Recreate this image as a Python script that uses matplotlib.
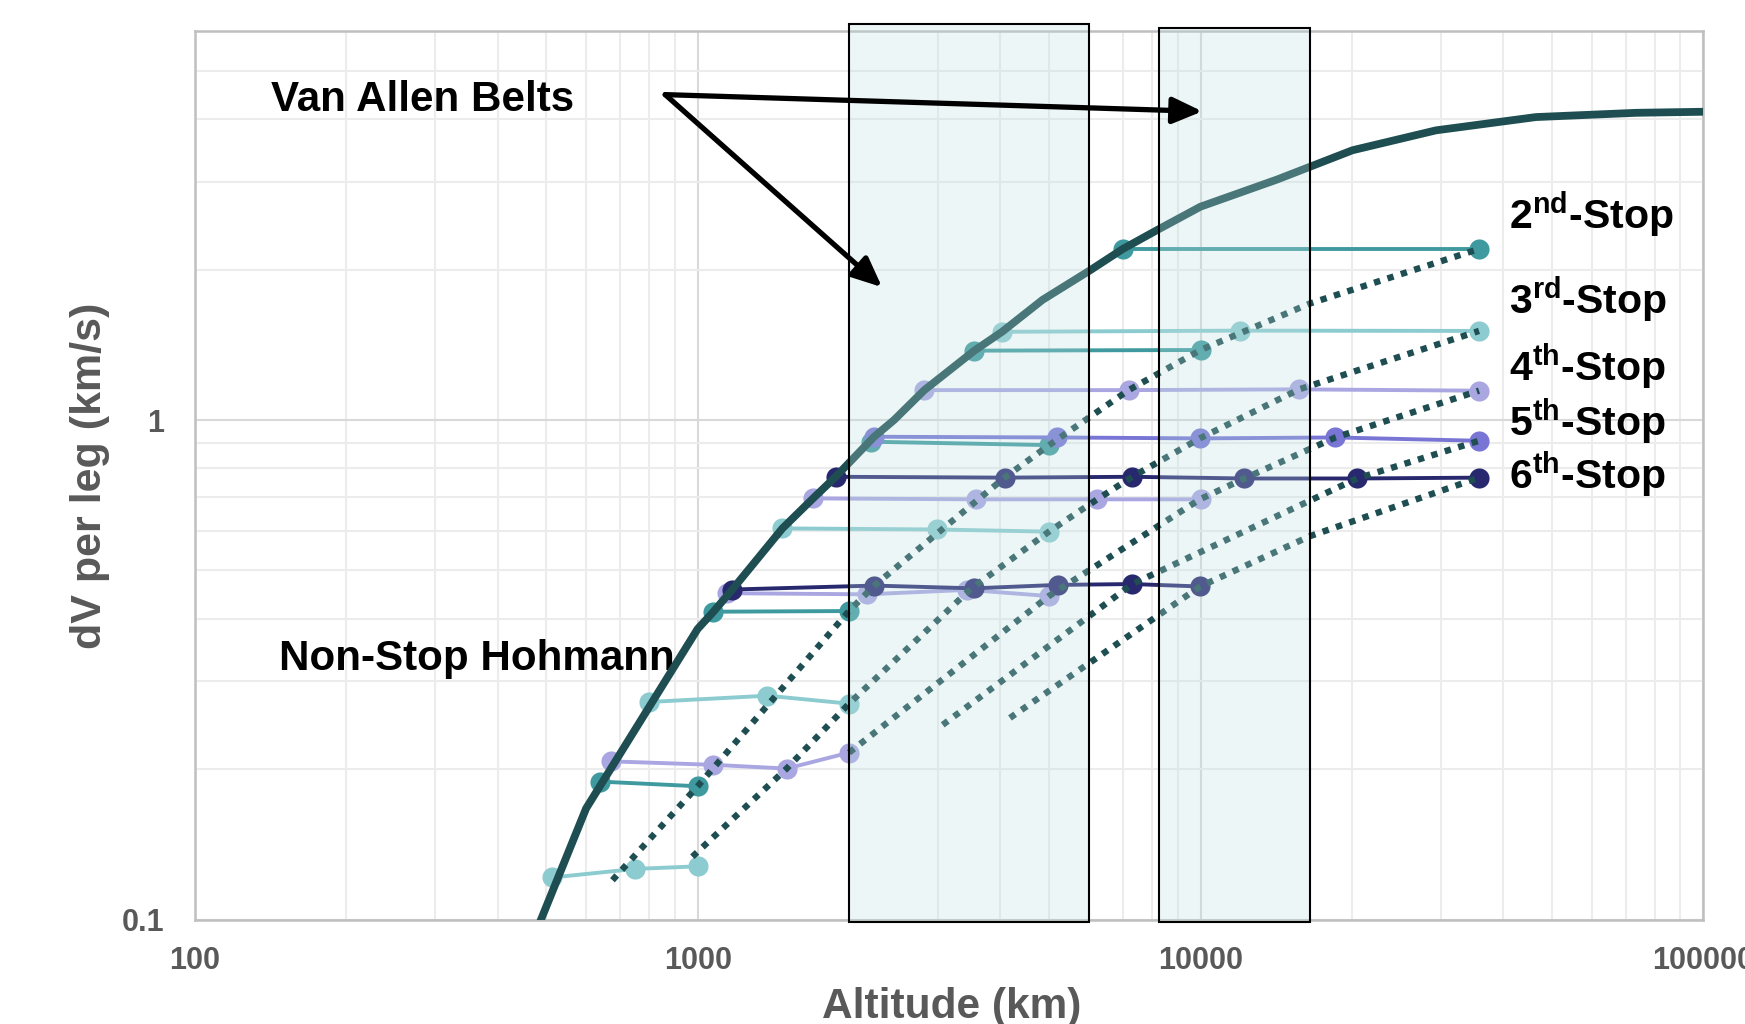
import matplotlib
matplotlib.use("Agg")
import matplotlib.pyplot as plt
from matplotlib.patches import Rectangle
from matplotlib.ticker import LogLocator, NullFormatter, FixedLocator, FixedFormatter

plt.rcParams["font.family"] = ["Liberation Sans", "DejaVu Sans"]
plt.rcParams["font.weight"] = "bold"
plt.rcParams["mathtext.fontset"] = "custom"
plt.rcParams["mathtext.rm"] = "Liberation Sans:bold"
plt.rcParams["mathtext.bf"] = "Liberation Sans:bold"

GEO = 35786

# --- data (altitude in km, dV in km/s) ---
x_ticks = [100, 1000, 10000, 100000]
x_tick_labels = ["100", "1000", "10000", "100000"]
y_ticks = [0.1, 1]
y_tick_labels = ["0.1", "1"]

# non-stop Hohmann curve
hoh_alt = [485, 600, 1000, 1075, 1172, 1474, 1696, 1881, 2243, 2457, 2823,
           3550, 4030, 4850, 6040, 7000, 8195, 9995, 14200, 20050, 29380,
           46450, 73500, 100000]
hoh_dv = [0.0985, 0.167, 0.382, 0.4135, 0.458, 0.607, 0.697, 0.770, 0.926,
          1.0, 1.148, 1.377, 1.502, 1.74, 1.996, 2.199, 2.40, 2.673, 3.03,
          3.467, 3.80, 4.04, 4.12, 4.14]

# multi-stop paths, one list per path
two_stop_alt = [[640, 1000], [1075, 2000], [2210, 5000], [3550, 10000], [7000, GEO]]
two_stop_dv = [[0.189, 0.185], [0.4135, 0.4148], [0.905, 0.891], [1.377, 1.381], [2.2, 2.2]]

three_stop_alt = [[514, 751, 1000], [801, 1376, 2000], [1474, 2997, 5000], [4030, 11990, GEO]]
three_stop_dv = [[0.1215, 0.1264, 0.1279], [0.2728, 0.2808, 0.2707],
                 [0.607, 0.604, 0.598], [1.502, 1.51, 1.508]]

four_stop_alt = [[672, 1075, 1503, 2000], [1146, 2175, 3436, 5000],
                 [1696, 3581, 6229, 10000], [2823, 7194, 15700, GEO]]
four_stop_dv = [[0.2075, 0.2042, 0.2007, 0.216], [0.4503, 0.448, 0.4573, 0.4444],
                [0.697, 0.694, 0.694, 0.694], [1.148, 1.148, 1.152, 1.145]]

five_stop_alt = [[2243, 5188, 9966, 18540, GEO]]
five_stop_dv = [[0.926, 0.923, 0.919, 0.923, 0.909]]

six_stop_alt = [[1172, 2243, 3543, 5200, 7316, 9980],
                [1881, 4076, 7316, 12220, 20470, GEO]]
six_stop_dv = [[0.458, 0.4664, 0.4605, 0.4679, 0.4697, 0.4645],
               [0.770, 0.767, 0.770, 0.764, 0.764, 0.767]]

# loci of the n-th stop (dotted)
stop2_alt = [677, 1000, 2000, 2243, 4076, 5000, 7194, 10000, 16520, GEO]
stop2_dv = [0.120, 0.185, 0.415, 0.466, 0.767, 0.891, 1.148, 1.381, 1.712, 2.2]
stop3_alt = [976, 1503, 2000, 3490, 4994, 6229, 7316, 9966, 15700, GEO]
stop3_dv = [0.1337, 0.2007, 0.2707, 0.459, 0.598, 0.694, 0.770, 0.919, 1.152, 1.508]
stop4_alt = [2000, 4994, 9966, 12220, 18540, GEO]
stop4_dv = [0.216, 0.4444, 0.694, 0.764, 0.923, 1.145]
stop5_alt = [3071, 7316, 20470, GEO]
stop5_dv = [0.2455, 0.4697, 0.764, 0.909]
stop6_alt = [4178, 9980, 16500, GEO]
stop6_dv = [0.2535, 0.4645, 0.5857, 0.767]

# Van Allen belt bands
belt_lo = [2000, 8250]
belt_hi = [6000, 16500]
belt_top = [6.2, 6.09]
belt_bottom = 0.099

stop_labels = [r"2$^{\mathbf{nd}}$-Stop", r"3$^{\mathbf{rd}}$-Stop", r"4$^{\mathbf{th}}$-Stop",
               r"5$^{\mathbf{th}}$-Stop", r"6$^{\mathbf{th}}$-Stop"]
stop_label_dv = [2.413, 1.633, 1.195, 0.928, 0.727]

# --- styles ---
CURVE = "#1e4e51"
GREY = "#595959"
row_colors = ["#3f9a9f", "#8ccbd0", "#a9a6e1", "#7875d5", "#28286f"]

fig = plt.figure(figsize=(17.45, 10.24), dpi=100)
ax = fig.add_axes([0.1116, 0.1018, 0.8646, 0.8677])
ax.set_xscale("log")
ax.set_yscale("log")
ax.set_xlim(100, 100000)
ax.set_ylim(0.1, 6.0)

ax.xaxis.set_major_locator(FixedLocator(x_ticks))
ax.xaxis.set_major_formatter(FixedFormatter(x_tick_labels))
ax.yaxis.set_major_locator(FixedLocator(y_ticks))
ax.yaxis.set_major_formatter(FixedFormatter(y_tick_labels))
for axis in (ax.xaxis, ax.yaxis):
    axis.set_minor_locator(LogLocator(base=10, subs=range(2, 10), numticks=20))
    axis.set_minor_formatter(NullFormatter())
ax.tick_params(which="both", length=0, labelsize=22, labelcolor=GREY)
ax.tick_params(axis="x", pad=19)
ax.tick_params(axis="y", pad=22)
ax.grid(which="major", color="#d9d9d9", lw=1.5)
ax.grid(which="minor", color="#ececec", lw=1.5)
ax.set_axisbelow(True)
for sp in ax.spines.values():
    sp.set_color("#bfbfbf")
    sp.set_linewidth(1.8)

groups = [(two_stop_alt, two_stop_dv), (three_stop_alt, three_stop_dv),
          (four_stop_alt, four_stop_dv), (five_stop_alt, five_stop_dv),
          (six_stop_alt, six_stop_dv)]
for (alts, dvs), col in zip(groups, row_colors):
    for a, d in zip(alts, dvs):
        ax.plot(a, d, "-o", color=col, lw=2.8, ms=14.5, mew=0, zorder=2)

for a, d in [(stop2_alt, stop2_dv), (stop3_alt, stop3_dv), (stop4_alt, stop4_dv),
             (stop5_alt, stop5_dv), (stop6_alt, stop6_dv)]:
    ax.plot(a, d, color=CURVE, lw=4.6, ls=(0, (1, 1.2)), zorder=3)

ax.plot(hoh_alt, hoh_dv, color=CURVE, lw=5.6, zorder=4, solid_capstyle="butt")

for lo, hi, top in zip(belt_lo, belt_hi, belt_top):
    ax.add_patch(Rectangle((lo, belt_bottom), hi - lo, top - belt_bottom,
                           facecolor=(0.737, 0.875, 0.875, 0.28), edgecolor="black",
                           lw=1.5, zorder=5, clip_on=False))

arrow = dict(arrowstyle="-|>,head_length=0.9,head_width=0.4", color="black", lw=3.8,
             shrinkA=0, shrinkB=0, mutation_scale=20)
ax.annotate("", xy=(10080, 4.147), xytext=(862, 4.48), arrowprops=arrow,
            annotation_clip=False, zorder=6)
ax.annotate("", xy=(2326, 1.845), xytext=(862, 4.48), arrowprops=arrow,
            annotation_clip=False, zorder=6)

ax.text(142, 4.155, "Van Allen Belts", fontsize=30.3, fontweight="bold",
        va="baseline", ha="left", zorder=7)
ax.text(147, 0.316, "Non-Stop Hohmann", fontsize=30.3, fontweight="bold",
        va="baseline", ha="left", zorder=3.5)
for lab, yv in zip(stop_labels, stop_label_dv):
    ax.text(41060, yv, lab, fontsize=29.5, fontweight="bold", va="baseline",
            ha="left", zorder=7, clip_on=False)

fig.text(952 / 1745, 1 - 1018 / 1024, "Altitude (km)", ha="center", va="baseline",
         fontsize=30.5, color=GREY, fontweight="bold")
fig.text(90 / 1745, 0.535, "dV per leg (km/s)", rotation=90, ha="center", va="center",
         fontsize=31, color=GREY, fontweight="bold")

fig.savefig("out.png", dpi=100, facecolor="white")
